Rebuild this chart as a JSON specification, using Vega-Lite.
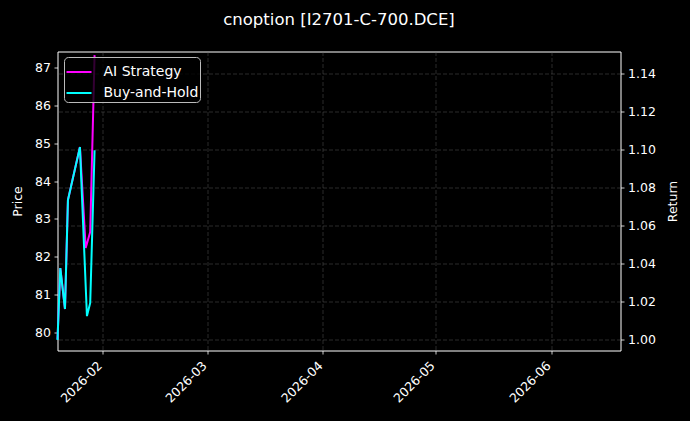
{
  "$schema": "https://vega.github.io/schema/vega-lite/v6.json",
  "width": 563,
  "height": 299,
  "autosize": {"type": "none"},
  "padding": {"left": 57.5, "top": 51.5, "right": 69.5, "bottom": 70.5},
  "background": "#000000",
  "title": {
    "text": "cnoption [I2701-C-700.DCE]",
    "color": "#ffffff",
    "font": "DejaVu Sans",
    "fontSize": 16.5,
    "fontWeight": "normal",
    "anchor": "middle",
    "offset": 23
  },
  "datasets": {
    "strategy": [
      {"date": "2026-01-20T00:00:00Z", "series": "AI Strategy", "return": 1.0},
      {"date": "2026-01-20T18:00:00Z", "series": "AI Strategy", "return": 1.0375},
      {"date": "2026-01-22T00:00:00Z", "series": "AI Strategy", "return": 1.0159},
      {"date": "2026-01-22T19:00:00Z", "series": "AI Strategy", "return": 1.0733},
      {"date": "2026-01-26T00:00:00Z", "series": "AI Strategy", "return": 1.1012},
      {"date": "2026-01-27T13:00:00Z", "series": "AI Strategy", "return": 1.0481},
      {"date": "2026-01-28T18:00:00Z", "series": "AI Strategy", "return": 1.0565},
      {"date": "2026-01-29T22:00:00Z", "series": "AI Strategy", "return": 1.1496}
    ],
    "price": [
      {"date": "2026-01-20T00:00:00Z", "series": "Buy-and-Hold", "price": 79.8},
      {"date": "2026-01-20T18:00:00Z", "series": "Buy-and-Hold", "price": 81.7},
      {"date": "2026-01-22T00:00:00Z", "series": "Buy-and-Hold", "price": 80.62},
      {"date": "2026-01-22T19:00:00Z", "series": "Buy-and-Hold", "price": 83.5},
      {"date": "2026-01-26T00:00:00Z", "series": "Buy-and-Hold", "price": 84.9},
      {"date": "2026-01-27T21:00:00Z", "series": "Buy-and-Hold", "price": 80.43},
      {"date": "2026-01-28T18:00:00Z", "series": "Buy-and-Hold", "price": 80.78},
      {"date": "2026-01-29T22:00:00Z", "series": "Buy-and-Hold", "price": 84.82}
    ]
  },
  "encoding": {
    "x": {
      "field": "date",
      "type": "temporal",
      "title": null,
      "scale": {
        "type": "utc",
        "domain": [
          {"year": 2026, "month": 1, "date": 20, "utc": true},
          {"year": 2026, "month": 6, "date": 19, "hours": 14, "utc": true}
        ]
      },
      "axis": {
        "values": [
          {"year": 2026, "month": 2, "date": 1, "utc": true},
          {"year": 2026, "month": 3, "date": 1, "utc": true},
          {"year": 2026, "month": 4, "date": 1, "utc": true},
          {"year": 2026, "month": 5, "date": 1, "utc": true},
          {"year": 2026, "month": 6, "date": 1, "utc": true}
        ],
        "format": "%Y-%m",
        "labelAngle": -45,
        "labelAlign": "right",
        "labelBaseline": "top",
        "labelPadding": 5,
        "labelOffset": -7
      }
    },
    "color": {
      "field": "series",
      "type": "nominal",
      "scale": {"domain": ["AI Strategy", "Buy-and-Hold"], "range": ["#ff00ff", "#00ffff"]},
      "legend": {
        "title": null,
        "orient": "none",
        "legendX": 6.5,
        "legendY": 5.5,
        "symbolType": "stroke",
        "symbolSize": 625,
        "symbolStrokeWidth": 2,
        "labelOffset": 11,
        "rowPadding": -3.5,
        "padding": 1.5,
        "cornerRadius": 4,
        "strokeColor": "#bbbbbb",
        "fillColor": "rgba(0,0,0,0.8)",
        "labelColor": "#ffffff",
        "labelFontSize": 14,
        "labelFont": "DejaVu Sans"
      }
    }
  },
  "layer": [
    {
      "data": {"name": "strategy"},
      "mark": {"type": "line", "strokeWidth": 2},
      "encoding": {
        "y": {
          "field": "return",
          "type": "quantitative",
          "title": "Return",
          "scale": {"domain": [0.9941, 1.1515], "nice": false, "zero": false},
          "axis": {"orient": "right", "values": [1.0, 1.02, 1.04, 1.06, 1.08, 1.1, 1.12, 1.14], "format": ".2f", "titlePadding": 11, "titleAngle": 270, "titleBaseline": "top"}
        }
      }
    },
    {
      "data": {"name": "price"},
      "mark": {"type": "line", "strokeWidth": 2},
      "encoding": {
        "y": {
          "field": "price",
          "type": "quantitative",
          "title": "Price",
          "scale": {"domain": [79.52, 87.43], "nice": false, "zero": false},
          "axis": {"orient": "left", "values": [80, 81, 82, 83, 84, 85, 86, 87], "format": "d", "titlePadding": 10}
        }
      }
    }
  ],
  "resolve": {"scale": {"y": "independent"}},
  "config": {
    "view": {"fill": "#000000", "stroke": "#ffffff", "strokeWidth": 1},
    "font": "DejaVu Sans",
    "axis": {
      "domain": false,
      "labelColor": "#ffffff",
      "labelFont": "DejaVu Sans",
      "labelFontSize": 12.5,
      "titleColor": "#ffffff",
      "titleFont": "DejaVu Sans",
      "titleFontSize": 12.5,
      "titleFontWeight": "normal",
      "tickColor": "#ffffff",
      "tickSize": 3.5,
      "tickWidth": 0.8,
      "labelPadding": 3.5,
      "grid": true,
      "gridColor": "#666666",
      "gridDash": [4, 2],
      "gridWidth": 0.6,
      "gridOpacity": 0.7
    }
  }
}
